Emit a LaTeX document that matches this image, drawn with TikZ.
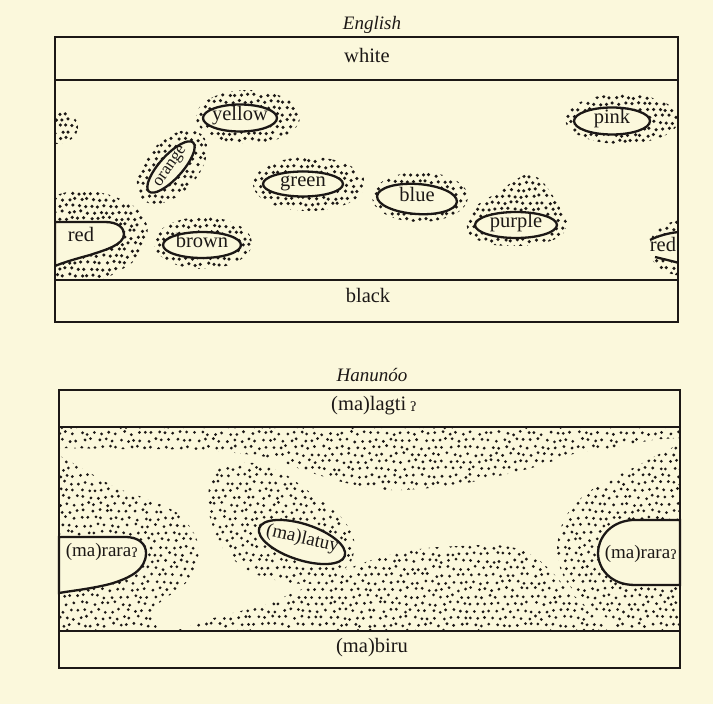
\documentclass[tikz,border=0pt]{standalone}
\usepackage{fontspec}
\setmainfont{Liberation Serif}
\newfontfamily\ipafont{DejaVu Serif}
\definecolor{paper}{RGB}{251,248,220}
\definecolor{ink}{RGB}{28,24,22}
\newcommand\gs{{\ipafont\fontsize{13}{13}\selectfont\raisebox{-1pt}{ʔ}}}
% x0,y0,nx,ny,step,jitter,radius
\newcommand\dotfield[7]{%
  \foreach \i in {0,...,#3}{\foreach \j in {0,...,#4}{%
    \fill[ink] ({#1+\i*#5+mod(\j,2)*#5*0.5+#6*rand},{#2+\j*#5+#6*rand}) circle[radius=#7];}}}
\begin{document}
\begin{tikzpicture}[x=1pt,y=-1pt,
  box/.style={draw=ink,line width=2.4pt},
  rim/.style={draw=ink,line width=2.3pt,fill=paper},
  lab/.style={text=ink,inner sep=0pt,text height=0.69em,text depth=0.19em,font=\fontsize{20.5}{22}\selectfont},
  slab/.style={lab,font=\fontsize{19}{21}\selectfont},
  ttl/.style={text=ink,inner sep=0pt,font=\fontsize{19}{20}\selectfont\itshape}]
\fill[paper] (0,0) rectangle (713,704);
\pgfmathsetseed{12}

% ---------------- English ----------------
\node[ttl] (ten) at (372,25) {English};

\begin{scope}
 \clip (55,80) rectangle (678,280);
 % yellow
 \begin{scope}\clip (248,117) ellipse[x radius=52,y radius=27];\dotfield{195}{89}{17}{9}{6.3}{1.3}{1.75}\end{scope}
 % orange
 \begin{scope}\clip[rotate around={48:(172,167)}] (172,167) ellipse[x radius=44,y radius=26];\dotfield{134}{127}{12}{12}{6.3}{1.3}{1.75}\end{scope}
 % green
 \begin{scope}\clip (309,184) ellipse[x radius=56,y radius=27];\dotfield{250}{154}{19}{9}{6.3}{1.3}{1.75}\end{scope}
 % brown
 \begin{scope}\clip (203,243) ellipse[x radius=49,y radius=26];\dotfield{151}{214}{16}{9}{6.3}{1.3}{1.75}\end{scope}
 % blue
 \begin{scope}\clip (420,197) ellipse[x radius=48,y radius=25];\dotfield{369}{169}{16}{9}{6.3}{1.3}{1.75}\end{scope}
 % purple
 \begin{scope}\clip plot[smooth cycle] coordinates {(467,222) (474,208) (486,199) (499,192) (512,182) (528,174) (541,180) (551,193) (561,209) (567,222) (561,236) (540,244) (515,246) (488,244) (470,235)};
  \dotfield{464}{171}{17}{12}{6.3}{1.3}{1.75}\end{scope}
 % pink
 \begin{scope}\clip (622,119) ellipse[x radius=57,y radius=25];\dotfield{562}{91}{19}{9}{6.3}{1.3}{1.75}\end{scope}
 % small bit at left edge
 \begin{scope}\clip (56,127) ellipse[x radius=22,y radius=17];\dotfield{50}{107}{5}{7}{6.3}{1.3}{1.75}\end{scope}
 % red, left
 \begin{scope}\clip (55,195) -- plot[smooth] coordinates {(56,195) (80,190) (110,195) (135,207) (147,225) (145,245) (133,262) (112,275) (100,281)} -- (55,281) -- cycle;
  \dotfield{50}{187}{16}{15}{6.3}{1.3}{1.75}\end{scope}
 % red, right
 \begin{scope}\clip (685,248) ellipse[x radius=36,y radius=28];\dotfield{642}{217}{7}{10}{6.3}{1.3}{1.75}\end{scope}

 % inner shapes
 \draw[rim] (240,118) ellipse[x radius=37,y radius=13.5];
 \draw[rim,rotate around={48:(171,167)}] (171,167) ellipse[x radius=33,y radius=11.5];
 \draw[rim] (303,184) ellipse[x radius=40,y radius=12.5];
 \draw[rim] (202,245) ellipse[x radius=39,y radius=13];
 \draw[rim,rotate around={-4:(417,199)}] (417,199) ellipse[x radius=40,y radius=15];
 \draw[rim] (516,225) ellipse[x radius=41,y radius=13];
 \draw[rim] (612,121) ellipse[x radius=38,y radius=13.5];
 \draw[rim] (55,222) -- (105,222) .. controls (118,222) and (124,228) .. (124,234)
   .. controls (124,245) and (105,250) .. (90,255) .. controls (75,259) and (62,263) .. (55,266) -- cycle;
 \fill[paper] (679,232) .. controls (668,233) and (658,236) .. (650,240) -- (647,250) -- (655,257)
   .. controls (663,259) and (672,261) .. (679,263) -- cycle;
 \draw[ink,line width=2.3pt] (679,232) .. controls (668,233) and (658,236) .. (650,240);
 \draw[ink,line width=2.3pt] (655,257) .. controls (663,259) and (672,261) .. (679,263);
\end{scope}

\node[lab] (yellow) at (240,118) {yellow};
\node[lab,rotate=55,font=\fontsize{17}{18}\selectfont] (orange) at (171,167) {orange};
\node[lab] (green) at (303,184) {green};
\node[lab] (brown) at (202,245) {brown};
\node[lab] (blue) at (417,199) {blue};
\node[lab] (purple) at (516,225) {purple};
\node[lab] (pink) at (612,121) {pink};
\node[lab] (redl) at (81,239) {red};
\node[lab] (redr) at (663,249) {red};
\node[lab] (white) at (367,60) {white};
\node[lab] (black) at (368,300) {black};

\draw[box] (55,37) rectangle (678,322);
\draw[box] (55,80) -- (678,80);
\draw[box] (55,280) -- (678,280);

% ---------------- Hanunoo ----------------
\node[ttl] (tha) at (372,375) {Hanunóo};

\begin{scope}
 \clip (60,427) -- (680,427) -- plot[smooth] coordinates {(680,438) (653,440) (619,447) (577,453) (535,467) (472,482) (430,488) (388,490) (346,483) (303,470) (266,457) (198,450) (120,449) (60,448)} -- cycle
   plot[smooth cycle] coordinates {(211,477) (228,465) (253,463) (283,473) (316,497) (341,517) (354,540) (350,563) (325,582) (291,583) (253,573) (224,550) (209,513)}
   (60,456) -- plot[smooth] coordinates {(60,456) (85,470) (117,488) (150,500) (180,515) (197,540) (197,565) (184,585) (163,600) (150,614) (160,631)} -- (60,631) -- cycle
   (175,631) -- plot[smooth] coordinates {(175,631) (217,617) (260,606) (293,593) (327,578) (360,564) (393,554) (427,548) (460,546) (493,545) (515,548) (535,557) (552,572) (568,590) (590,610) (612,631)} -- cycle
   (680,444) -- plot[smooth] coordinates {(680,444) (663,452) (637,466) (610,479) (587,493) (570,510) (560,530) (557,553) (562,573) (573,590) (590,605) (608,619) (622,631)} -- (680,631) -- cycle;
 \dotfield{56}{426}{88}{29}{7.1}{1.8}{1.55}
\end{scope}

\draw[rim,rotate around={-18:(302,542)}] (302,542) ellipse[x radius=45,y radius=18];
\draw[rim] (59,537) -- (125,537) .. controls (140,537) and (146,545) .. (146,553)
  .. controls (146,570) and (130,578) .. (110,584) .. controls (90,589) and (70,591) .. (59,593) -- cycle;
\draw[rim] (680,520) -- (632,520) .. controls (608,522) and (598,540) .. (598,553)
  .. controls (598,568) and (610,585) .. (635,585) -- (680,585) -- cycle;

\node[slab,rotate=-13] (latuy) at (302,541) {(ma)latuy};
\node[slab] (raral) at (102,554) {(ma)rara\gs};
\node[slab] (rarar) at (641,556) {(ma)rara\gs};
\node[lab] (lagti) at (374,408) {(ma)lagti\,\gs};
\node[lab] (biru) at (372,650) {(ma)biru};

\draw[box] (59,390) rectangle (680,668);
\draw[box] (59,427) -- (680,427);
\draw[box] (59,631) -- (680,631);
\end{tikzpicture}
\end{document}
